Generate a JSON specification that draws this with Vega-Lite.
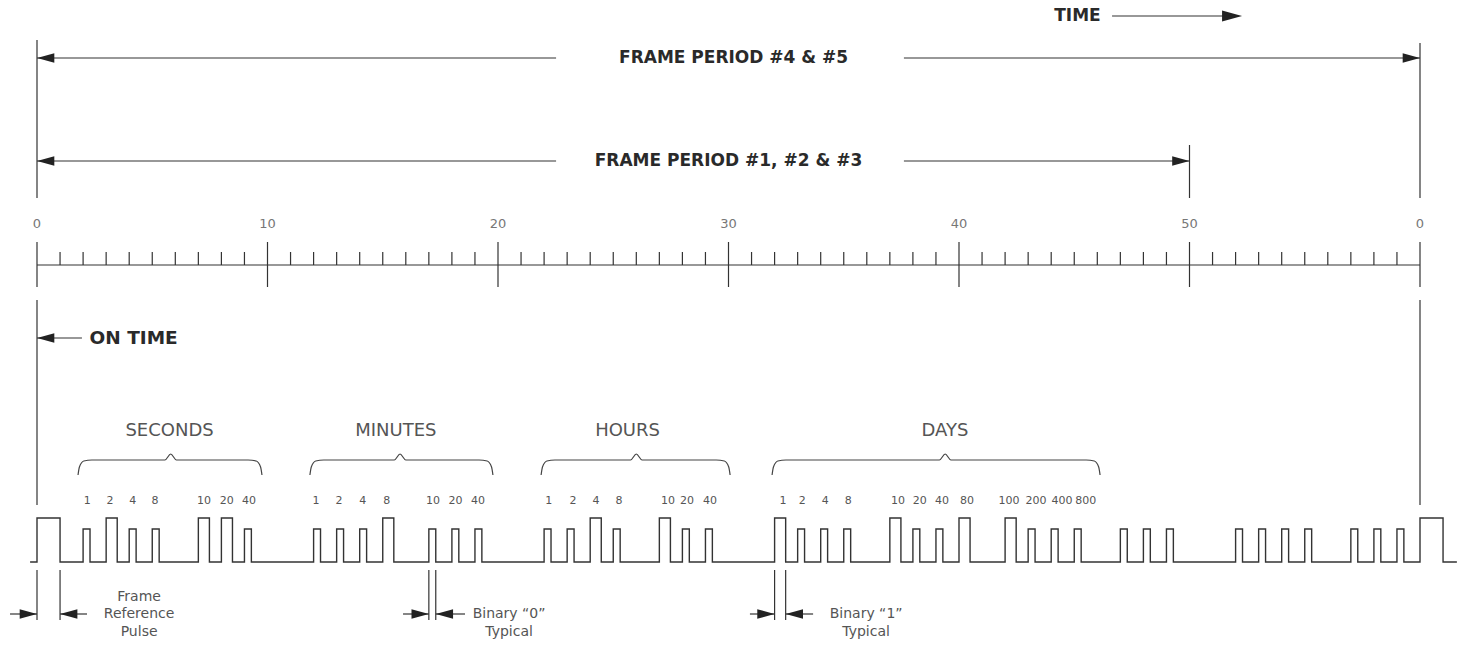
{
  "$schema": "https://vega.github.io/schema/vega-lite/v6.json",
  "width": 1458,
  "height": 646,
  "padding": 0,
  "autosize": {"type": "none"},
  "background": "white",
  "config": {"view": {"stroke": null}, "text": {"font": "DejaVu Sans"}},
  "datasets": {
    "wave": [
      {"t": -0.3, "y": 0}, {"t": 0, "y": 44}, {"t": 1, "y": 0},
      {"t": 2, "y": 33}, {"t": 2.3, "y": 0}, {"t": 3, "y": 44}, {"t": 3.48, "y": 0}, {"t": 4, "y": 33}, {"t": 4.3, "y": 0}, {"t": 5, "y": 33}, {"t": 5.3, "y": 0},
      {"t": 7, "y": 44}, {"t": 7.48, "y": 0}, {"t": 8, "y": 44}, {"t": 8.48, "y": 0}, {"t": 9, "y": 33}, {"t": 9.3, "y": 0},
      {"t": 12, "y": 33}, {"t": 12.3, "y": 0}, {"t": 13, "y": 33}, {"t": 13.3, "y": 0}, {"t": 14, "y": 33}, {"t": 14.3, "y": 0}, {"t": 15, "y": 44}, {"t": 15.48, "y": 0},
      {"t": 17, "y": 33}, {"t": 17.3, "y": 0}, {"t": 18, "y": 33}, {"t": 18.3, "y": 0}, {"t": 19, "y": 33}, {"t": 19.3, "y": 0},
      {"t": 22, "y": 33}, {"t": 22.3, "y": 0}, {"t": 23, "y": 33}, {"t": 23.3, "y": 0}, {"t": 24, "y": 44}, {"t": 24.48, "y": 0}, {"t": 25, "y": 33}, {"t": 25.3, "y": 0},
      {"t": 27, "y": 44}, {"t": 27.48, "y": 0}, {"t": 28, "y": 33}, {"t": 28.3, "y": 0}, {"t": 29, "y": 33}, {"t": 29.3, "y": 0},
      {"t": 32, "y": 44}, {"t": 32.48, "y": 0}, {"t": 33, "y": 33}, {"t": 33.3, "y": 0}, {"t": 34, "y": 33}, {"t": 34.3, "y": 0}, {"t": 35, "y": 33}, {"t": 35.3, "y": 0},
      {"t": 37, "y": 44}, {"t": 37.48, "y": 0}, {"t": 38, "y": 33}, {"t": 38.3, "y": 0}, {"t": 39, "y": 33}, {"t": 39.3, "y": 0}, {"t": 40, "y": 44}, {"t": 40.48, "y": 0},
      {"t": 42, "y": 44}, {"t": 42.48, "y": 0}, {"t": 43, "y": 33}, {"t": 43.3, "y": 0}, {"t": 44, "y": 33}, {"t": 44.3, "y": 0}, {"t": 45, "y": 33}, {"t": 45.3, "y": 0},
      {"t": 47, "y": 33}, {"t": 47.3, "y": 0}, {"t": 48, "y": 33}, {"t": 48.3, "y": 0}, {"t": 49, "y": 33}, {"t": 49.3, "y": 0},
      {"t": 52, "y": 33}, {"t": 52.3, "y": 0}, {"t": 53, "y": 33}, {"t": 53.3, "y": 0}, {"t": 54, "y": 33}, {"t": 54.3, "y": 0}, {"t": 55, "y": 33}, {"t": 55.3, "y": 0},
      {"t": 57, "y": 33}, {"t": 57.3, "y": 0}, {"t": 58, "y": 33}, {"t": 58.3, "y": 0}, {"t": 59, "y": 33}, {"t": 59.3, "y": 0},
      {"t": 60, "y": 44}, {"t": 61, "y": 0}, {"t": 61.6, "y": 0}
    ],
    "hlines": [
      {"part": "fp45", "t": 0, "t2": 22.52, "y": 504},
      {"part": "fp45", "t": 37.61, "t2": 60, "y": 504},
      {"part": "fp123", "t": 0, "t2": 22.52, "y": 401},
      {"part": "fp123", "t": 37.61, "t2": 50, "y": 401},
      {"part": "time", "t": 46.64, "t2": 52.0, "y": 546},
      {"part": "ontime", "t": 0, "t2": 1.95, "y": 224},
      {"part": "ruler", "t": 0, "t2": 60, "y": 297},
      {"part": "frame ref", "t": -1.17, "t2": 0, "y": -52},
      {"part": "frame ref", "t": 1, "t2": 2.17, "y": -52},
      {"part": "binary 0", "t": 15.88, "t2": 17, "y": -52},
      {"part": "binary 0", "t": 17.3, "t2": 18.57, "y": -52},
      {"part": "binary 1", "t": 30.93, "t2": 32, "y": -52},
      {"part": "binary 1", "t": 32.48, "t2": 33.67, "y": -52}
    ],
    "vlines": [
      {"part": "guide", "t": 0, "y": 522, "y2": 364},
      {"part": "guide", "t": 60, "y": 519, "y2": 364},
      {"part": "guide", "t": 50, "y": 417, "y2": 364},
      {"part": "guide", "t": 0, "y": 262, "y2": 57},
      {"part": "guide", "t": 60, "y": 262, "y2": 57},
      {"part": "major", "t": 0, "y": 275, "y2": 320},
      {"part": "major", "t": 10, "y": 275, "y2": 320},
      {"part": "major", "t": 20, "y": 275, "y2": 320},
      {"part": "major", "t": 30, "y": 275, "y2": 320},
      {"part": "major", "t": 40, "y": 275, "y2": 320},
      {"part": "major", "t": 50, "y": 275, "y2": 320},
      {"part": "major", "t": 60, "y": 275, "y2": 320},
      {"part": "minor", "t": 1, "y": 297, "y2": 310}, {"part": "minor", "t": 2, "y": 297, "y2": 310}, {"part": "minor", "t": 3, "y": 297, "y2": 310},
      {"part": "minor", "t": 4, "y": 297, "y2": 310}, {"part": "minor", "t": 5, "y": 297, "y2": 310}, {"part": "minor", "t": 6, "y": 297, "y2": 310},
      {"part": "minor", "t": 7, "y": 297, "y2": 310}, {"part": "minor", "t": 8, "y": 297, "y2": 310}, {"part": "minor", "t": 9, "y": 297, "y2": 310},
      {"part": "minor", "t": 11, "y": 297, "y2": 310}, {"part": "minor", "t": 12, "y": 297, "y2": 310}, {"part": "minor", "t": 13, "y": 297, "y2": 310},
      {"part": "minor", "t": 14, "y": 297, "y2": 310}, {"part": "minor", "t": 15, "y": 297, "y2": 310}, {"part": "minor", "t": 16, "y": 297, "y2": 310},
      {"part": "minor", "t": 17, "y": 297, "y2": 310}, {"part": "minor", "t": 18, "y": 297, "y2": 310}, {"part": "minor", "t": 19, "y": 297, "y2": 310},
      {"part": "minor", "t": 21, "y": 297, "y2": 310}, {"part": "minor", "t": 22, "y": 297, "y2": 310}, {"part": "minor", "t": 23, "y": 297, "y2": 310},
      {"part": "minor", "t": 24, "y": 297, "y2": 310}, {"part": "minor", "t": 25, "y": 297, "y2": 310}, {"part": "minor", "t": 26, "y": 297, "y2": 310},
      {"part": "minor", "t": 27, "y": 297, "y2": 310}, {"part": "minor", "t": 28, "y": 297, "y2": 310}, {"part": "minor", "t": 29, "y": 297, "y2": 310},
      {"part": "minor", "t": 31, "y": 297, "y2": 310}, {"part": "minor", "t": 32, "y": 297, "y2": 310}, {"part": "minor", "t": 33, "y": 297, "y2": 310},
      {"part": "minor", "t": 34, "y": 297, "y2": 310}, {"part": "minor", "t": 35, "y": 297, "y2": 310}, {"part": "minor", "t": 36, "y": 297, "y2": 310},
      {"part": "minor", "t": 37, "y": 297, "y2": 310}, {"part": "minor", "t": 38, "y": 297, "y2": 310}, {"part": "minor", "t": 39, "y": 297, "y2": 310},
      {"part": "minor", "t": 41, "y": 297, "y2": 310}, {"part": "minor", "t": 42, "y": 297, "y2": 310}, {"part": "minor", "t": 43, "y": 297, "y2": 310},
      {"part": "minor", "t": 44, "y": 297, "y2": 310}, {"part": "minor", "t": 45, "y": 297, "y2": 310}, {"part": "minor", "t": 46, "y": 297, "y2": 310},
      {"part": "minor", "t": 47, "y": 297, "y2": 310}, {"part": "minor", "t": 48, "y": 297, "y2": 310}, {"part": "minor", "t": 49, "y": 297, "y2": 310},
      {"part": "minor", "t": 51, "y": 297, "y2": 310}, {"part": "minor", "t": 52, "y": 297, "y2": 310}, {"part": "minor", "t": 53, "y": 297, "y2": 310},
      {"part": "minor", "t": 54, "y": 297, "y2": 310}, {"part": "minor", "t": 55, "y": 297, "y2": 310}, {"part": "minor", "t": 56, "y": 297, "y2": 310},
      {"part": "minor", "t": 57, "y": 297, "y2": 310}, {"part": "minor", "t": 58, "y": 297, "y2": 310}, {"part": "minor", "t": 59, "y": 297, "y2": 310},
      {"part": "measure", "t": 0, "y": -8, "y2": -58},
      {"part": "measure", "t": 1, "y": -8, "y2": -58},
      {"part": "measure", "t": 17, "y": -8, "y2": -58},
      {"part": "measure", "t": 17.3, "y": -8, "y2": -58},
      {"part": "measure", "t": 32, "y": -8, "y2": -58},
      {"part": "measure", "t": 32.48, "y": -8, "y2": -58}
    ],
    "heads": [
      {"part": "fp45", "t": 0, "y": 504, "dir": "left"},
      {"part": "fp45", "t": 60, "y": 504, "dir": "right"},
      {"part": "fp123", "t": 0, "y": 401, "dir": "left"},
      {"part": "fp123", "t": 50, "y": 401, "dir": "right"},
      {"part": "ontime", "t": 0, "y": 224, "dir": "left"},
      {"part": "time", "t": 52.28, "y": 546, "dir": "right"},
      {"part": "frame ref", "t": 0, "y": -52, "dir": "right"},
      {"part": "frame ref", "t": 1, "y": -52, "dir": "left"},
      {"part": "binary 0", "t": 17, "y": -52, "dir": "right"},
      {"part": "binary 0", "t": 17.3, "y": -52, "dir": "left"},
      {"part": "binary 1", "t": 32, "y": -52, "dir": "right"},
      {"part": "binary 1", "t": 32.48, "y": -52, "dir": "left"}
    ],
    "braces": [
      {"brace": "SECONDS", "t": 1.78, "y": 87}, {"brace": "SECONDS", "t": 1.84, "y": 95}, {"brace": "SECONDS", "t": 2.03, "y": 101}, {"brace": "SECONDS", "t": 2.38, "y": 102},
      {"brace": "SECONDS", "t": 5.55, "y": 102}, {"brace": "SECONDS", "t": 5.8, "y": 108}, {"brace": "SECONDS", "t": 6.05, "y": 102},
      {"brace": "SECONDS", "t": 9.16, "y": 102}, {"brace": "SECONDS", "t": 9.51, "y": 101}, {"brace": "SECONDS", "t": 9.7, "y": 95}, {"brace": "SECONDS", "t": 9.76, "y": 87},
      {"brace": "MINUTES", "t": 11.84, "y": 87}, {"brace": "MINUTES", "t": 11.9, "y": 95}, {"brace": "MINUTES", "t": 12.09, "y": 101}, {"brace": "MINUTES", "t": 12.44, "y": 102},
      {"brace": "MINUTES", "t": 15.5, "y": 102}, {"brace": "MINUTES", "t": 15.75, "y": 108}, {"brace": "MINUTES", "t": 16.0, "y": 102},
      {"brace": "MINUTES", "t": 19.18, "y": 102}, {"brace": "MINUTES", "t": 19.53, "y": 101}, {"brace": "MINUTES", "t": 19.72, "y": 95}, {"brace": "MINUTES", "t": 19.78, "y": 87},
      {"brace": "HOURS", "t": 21.87, "y": 87}, {"brace": "HOURS", "t": 21.93, "y": 95}, {"brace": "HOURS", "t": 22.12, "y": 101}, {"brace": "HOURS", "t": 22.47, "y": 102},
      {"brace": "HOURS", "t": 25.75, "y": 102}, {"brace": "HOURS", "t": 26.0, "y": 108}, {"brace": "HOURS", "t": 26.25, "y": 102},
      {"brace": "HOURS", "t": 29.47, "y": 102}, {"brace": "HOURS", "t": 29.82, "y": 101}, {"brace": "HOURS", "t": 30.01, "y": 95}, {"brace": "HOURS", "t": 30.07, "y": 87},
      {"brace": "DAYS", "t": 31.89, "y": 87}, {"brace": "DAYS", "t": 31.95, "y": 95}, {"brace": "DAYS", "t": 32.14, "y": 101}, {"brace": "DAYS", "t": 32.49, "y": 102},
      {"brace": "DAYS", "t": 39.15, "y": 102}, {"brace": "DAYS", "t": 39.4, "y": 108}, {"brace": "DAYS", "t": 39.65, "y": 102},
      {"brace": "DAYS", "t": 45.52, "y": 102}, {"brace": "DAYS", "t": 45.87, "y": 101}, {"brace": "DAYS", "t": 46.06, "y": 95}, {"brace": "DAYS", "t": 46.12, "y": 87}
    ],
    "titles": [
      {"role": "frame", "t": 30.22, "y": 504, "label": "FRAME PERIOD #4 & #5"},
      {"role": "frame", "t": 30.0, "y": 401, "label": "FRAME PERIOD #1, #2 & #3"},
      {"role": "frame", "t": 45.14, "y": 546, "label": "TIME"},
      {"role": "ontime", "t": 4.19, "y": 224, "label": "ON TIME"}
    ],
    "labels": [
      {"role": "group", "t": 5.75, "y": 131, "label": "SECONDS"},
      {"role": "group", "t": 15.57, "y": 131, "label": "MINUTES"},
      {"role": "group", "t": 25.62, "y": 131, "label": "HOURS"},
      {"role": "group", "t": 39.39, "y": 131, "label": "DAYS"},
      {"role": "ruler", "t": 0, "y": 338, "label": "0"},
      {"role": "ruler", "t": 10, "y": 338, "label": "10"},
      {"role": "ruler", "t": 20, "y": 338, "label": "20"},
      {"role": "ruler", "t": 30, "y": 338, "label": "30"},
      {"role": "ruler", "t": 40, "y": 338, "label": "40"},
      {"role": "ruler", "t": 50, "y": 338, "label": "50"},
      {"role": "ruler", "t": 60, "y": 338, "label": "0"},
      {"role": "note", "t": 4.43, "y": -35, "label": "Frame"},
      {"role": "note", "t": 4.43, "y": -52, "label": "Reference"},
      {"role": "note", "t": 4.43, "y": -70, "label": "Pulse"},
      {"role": "note", "t": 20.48, "y": -52, "label": "Binary “0”"},
      {"role": "note", "t": 20.48, "y": -70, "label": "Typical"},
      {"role": "note", "t": 35.97, "y": -52, "label": "Binary “1”"},
      {"role": "note", "t": 35.97, "y": -70, "label": "Typical"},
      {"role": "bit", "t": 2.18, "y": 61, "label": "1"},
      {"role": "bit", "t": 3.17, "y": 61, "label": "2"},
      {"role": "bit", "t": 4.15, "y": 61, "label": "4"},
      {"role": "bit", "t": 5.12, "y": 61, "label": "8"},
      {"role": "bit", "t": 7.25, "y": 61, "label": "10"},
      {"role": "bit", "t": 8.23, "y": 61, "label": "20"},
      {"role": "bit", "t": 9.2, "y": 61, "label": "40"},
      {"role": "bit", "t": 12.1, "y": 61, "label": "1"},
      {"role": "bit", "t": 13.1, "y": 61, "label": "2"},
      {"role": "bit", "t": 14.13, "y": 61, "label": "4"},
      {"role": "bit", "t": 15.17, "y": 61, "label": "8"},
      {"role": "bit", "t": 17.18, "y": 61, "label": "10"},
      {"role": "bit", "t": 18.16, "y": 61, "label": "20"},
      {"role": "bit", "t": 19.13, "y": 61, "label": "40"},
      {"role": "bit", "t": 22.2, "y": 61, "label": "1"},
      {"role": "bit", "t": 23.25, "y": 61, "label": "2"},
      {"role": "bit", "t": 24.25, "y": 61, "label": "4"},
      {"role": "bit", "t": 25.25, "y": 61, "label": "8"},
      {"role": "bit", "t": 27.37, "y": 61, "label": "10"},
      {"role": "bit", "t": 28.2, "y": 61, "label": "20"},
      {"role": "bit", "t": 29.2, "y": 61, "label": "40"},
      {"role": "bit", "t": 32.36, "y": 61, "label": "1"},
      {"role": "bit", "t": 33.2, "y": 61, "label": "2"},
      {"role": "bit", "t": 34.2, "y": 61, "label": "4"},
      {"role": "bit", "t": 35.2, "y": 61, "label": "8"},
      {"role": "bit", "t": 37.35, "y": 61, "label": "10"},
      {"role": "bit", "t": 38.3, "y": 61, "label": "20"},
      {"role": "bit", "t": 39.26, "y": 61, "label": "40"},
      {"role": "bit", "t": 40.35, "y": 61, "label": "80"},
      {"role": "bit", "t": 42.17, "y": 61, "label": "100"},
      {"role": "bit", "t": 43.34, "y": 61, "label": "200"},
      {"role": "bit", "t": 44.47, "y": 61, "label": "400"},
      {"role": "bit", "t": 45.5, "y": 61, "label": "800"}
    ]
  },
  "encoding": {
    "x": {"field": "t", "type": "quantitative", "scale": {"domain": [-1.6052, 61.6486], "nice": false, "zero": false}, "axis": null},
    "y": {"field": "y", "type": "quantitative", "scale": {"domain": [-84, 562], "nice": false, "zero": false}, "axis": null}
  },
  "layer": [
    {
      "data": {"name": "wave"},
      "mark": {"type": "line", "interpolate": "step-after", "color": "#333333", "strokeWidth": 1.4}
    },
    {
      "data": {"name": "hlines"},
      "mark": {"type": "rule", "color": "#333333", "strokeWidth": 1.2},
      "encoding": {"x2": {"field": "t2"}}
    },
    {
      "data": {"name": "vlines"},
      "mark": {"type": "rule", "color": "#333333", "strokeWidth": 1.2},
      "encoding": {"y2": {"field": "y2"}}
    },
    {
      "data": {"name": "heads"},
      "transform": [{"filter": "datum.part !== 'time'"}],
      "mark": {"type": "point", "filled": true, "opacity": 1, "color": "#222222", "strokeWidth": 0, "size": 300},
      "encoding": {
        "shape": {"field": "dir", "type": "nominal", "scale": {"domain": ["left", "right"], "range": ["M0,0L2,-0.55L2,0.55Z", "M0,0L-2,-0.55L-2,0.55Z"]}, "legend": null}
      }
    },
    {
      "data": {"name": "heads"},
      "transform": [{"filter": "datum.part === 'time'"}],
      "mark": {"type": "point", "filled": true, "opacity": 1, "color": "#222222", "strokeWidth": 0, "size": 400},
      "encoding": {
        "shape": {"field": "dir", "type": "nominal", "scale": {"domain": ["left", "right"], "range": ["M0,0L2,-0.55L2,0.55Z", "M0,0L-2,-0.55L-2,0.55Z"]}, "legend": null}
      }
    },
    {
      "data": {"name": "braces"},
      "mark": {"type": "line", "interpolate": "monotone", "color": "#444444", "strokeWidth": 1.2},
      "encoding": {"detail": {"field": "brace", "type": "nominal"}}
    },
    {
      "data": {"name": "titles"},
      "transform": [{"filter": "datum.role === 'frame'"}],
      "mark": {"type": "text", "font": "DejaVu Sans", "fontWeight": "bold", "fontSize": 17, "color": "#2a2a2a", "align": "center", "baseline": "middle"},
      "encoding": {"text": {"field": "label"}}
    },
    {
      "data": {"name": "titles"},
      "transform": [{"filter": "datum.role === 'ontime'"}],
      "mark": {"type": "text", "font": "DejaVu Sans", "fontWeight": "bold", "fontSize": 18.5, "color": "#2a2a2a", "align": "center", "baseline": "middle"},
      "encoding": {"text": {"field": "label"}}
    },
    {
      "data": {"name": "labels"},
      "transform": [{"filter": "datum.role === 'group'"}],
      "mark": {"type": "text", "font": "DejaVu Sans", "fontSize": 18, "color": "#555555", "align": "center", "baseline": "middle"},
      "encoding": {"text": {"field": "label"}}
    },
    {
      "data": {"name": "labels"},
      "transform": [{"filter": "datum.role === 'ruler'"}],
      "mark": {"type": "text", "font": "DejaVu Sans", "fontSize": 13, "color": "#777777", "align": "center", "baseline": "middle"},
      "encoding": {"text": {"field": "label"}}
    },
    {
      "data": {"name": "labels"},
      "transform": [{"filter": "datum.role === 'note'"}],
      "mark": {"type": "text", "font": "DejaVu Sans", "fontSize": 14, "color": "#555555", "align": "center", "baseline": "middle"},
      "encoding": {"text": {"field": "label"}}
    },
    {
      "data": {"name": "labels"},
      "transform": [{"filter": "datum.role === 'bit'"}],
      "mark": {"type": "text", "font": "DejaVu Sans", "fontSize": 11, "color": "#555555", "align": "center", "baseline": "middle"},
      "encoding": {"text": {"field": "label"}}
    }
  ]
}
